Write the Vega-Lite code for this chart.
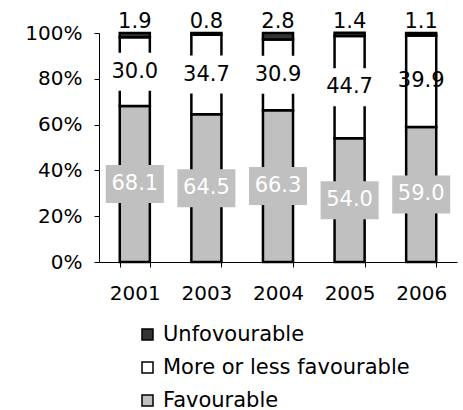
{
  "$schema": "https://vega.github.io/schema/vega-lite/v6.json",
  "width": 358,
  "height": 229,
  "autosize": "none",
  "padding": {"left": 99, "top": 33, "right": 6, "bottom": 148},
  "config": {
    "view": {"stroke": null},
    "font": "DejaVu Sans",
    "axis": {
      "grid": false,
      "domainColor": "black",
      "tickColor": "black",
      "labelColor": "black",
      "labelFont": "DejaVu Sans",
      "labelFontSize": 20,
      "tickSize": 5,
      "title": null
    }
  },
  "data": {
    "values": [
      {"year": "2001", "category": "Favourable", "order": 1, "value": 68.1},
      {"year": "2001", "category": "More or less favourable", "order": 2, "value": 30.0},
      {"year": "2001", "category": "Unfovourable", "order": 3, "value": 1.9},
      {"year": "2003", "category": "Favourable", "order": 1, "value": 64.5},
      {"year": "2003", "category": "More or less favourable", "order": 2, "value": 34.7},
      {"year": "2003", "category": "Unfovourable", "order": 3, "value": 0.8},
      {"year": "2004", "category": "Favourable", "order": 1, "value": 66.3},
      {"year": "2004", "category": "More or less favourable", "order": 2, "value": 30.9},
      {"year": "2004", "category": "Unfovourable", "order": 3, "value": 2.8},
      {"year": "2005", "category": "Favourable", "order": 1, "value": 54.0},
      {"year": "2005", "category": "More or less favourable", "order": 2, "value": 44.7},
      {"year": "2005", "category": "Unfovourable", "order": 3, "value": 1.4},
      {"year": "2006", "category": "Favourable", "order": 1, "value": 59.0},
      {"year": "2006", "category": "More or less favourable", "order": 2, "value": 39.9},
      {"year": "2006", "category": "Unfovourable", "order": 3, "value": 1.1}
    ]
  },
  "transform": [
    {"stack": "value", "groupby": ["year"], "sort": [{"field": "order"}], "as": ["y0", "y1"]},
    {"calculate": "(datum.y0 + datum.y1) / 2", "as": "mid"}
  ],
  "encoding": {
    "x": {
      "field": "year",
      "type": "ordinal",
      "scale": {"paddingInner": 0.58, "paddingOuter": 0.29},
      "axis": {"labelAngle": 0, "tickBand": "extent", "labelPadding": 16}
    }
  },
  "layer": [
    {
      "mark": {"type": "bar", "stroke": "black", "strokeWidth": 2.5},
      "encoding": {
        "y": {
          "field": "y0",
          "type": "quantitative",
          "scale": {"domain": [0, 100]},
          "axis": {"values": [0, 20, 40, 60, 80, 100], "labelExpr": "datum.value + '%'", "labelPadding": 12}
        },
        "y2": {"field": "y1"},
        "color": {
          "field": "category",
          "type": "nominal",
          "scale": {
            "domain": ["Unfovourable", "More or less favourable", "Favourable"],
            "range": ["#333333", "#ffffff", "#c0c0c0"]
          },
          "legend": {
            "orient": "none",
            "legendX": 38,
            "legendY": 291,
            "direction": "vertical",
            "title": null,
            "padding": 0,
            "symbolType": "square",
            "symbolSize": 121,
            "symbolStrokeColor": "black",
            "symbolStrokeWidth": 1.5,
            "symbolOpacity": 1,
            "labelFont": "DejaVu Sans",
            "labelFontSize": 21,
            "labelColor": "black",
            "labelLimit": 0,
            "labelOffset": 5,
            "rowPadding": 11
          }
        }
      }
    },
    {
      "transform": [
        {"filter": "datum.category === 'Favourable' || (datum.category === 'More or less favourable' && datum.year !== '2006')"}
      ],
      "mark": {
        "type": "point",
        "shape": "M-1,-0.655L1,-0.655L1,0.655L-1,0.655Z",
        "size": 3364,
        "filled": true,
        "opacity": 1,
        "strokeWidth": 0
      },
      "encoding": {
        "y": {"field": "mid", "type": "quantitative"},
        "fill": {
          "condition": {"test": "datum.category === 'Favourable'", "value": "#c0c0c0"},
          "value": "#ffffff"
        }
      }
    },
    {
      "transform": [{"filter": "datum.category !== 'Unfovourable'"}],
      "mark": {"type": "text", "fontSize": 21, "baseline": "middle", "font": "DejaVu Sans"},
      "encoding": {
        "y": {"field": "mid", "type": "quantitative"},
        "text": {"field": "value", "type": "quantitative", "format": ".1f"},
        "color": {
          "condition": {"test": "datum.category === 'Favourable'", "value": "#ffffff"},
          "value": "#000000"
        }
      }
    },
    {
      "transform": [{"filter": "datum.category === 'Unfovourable'"}],
      "mark": {"type": "text", "fontSize": 21, "baseline": "alphabetic", "dy": -5, "color": "black", "font": "DejaVu Sans"},
      "encoding": {
        "y": {"field": "y1", "type": "quantitative"},
        "text": {"field": "value", "type": "quantitative", "format": ".1f"}
      }
    }
  ]
}
